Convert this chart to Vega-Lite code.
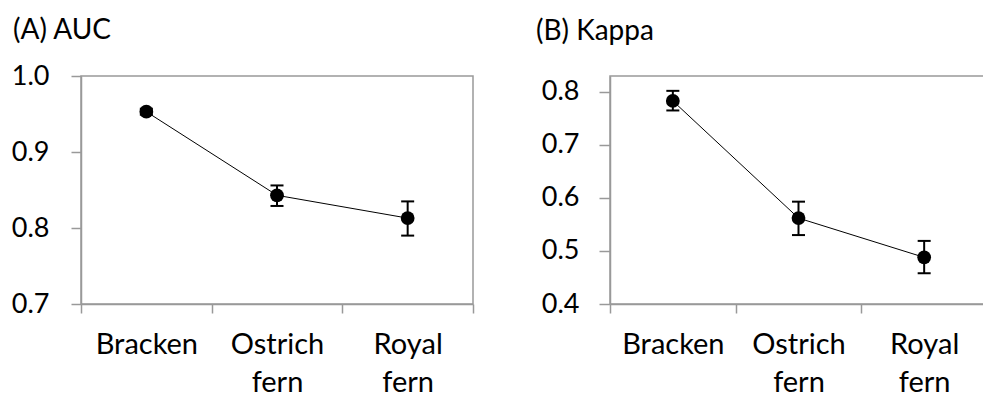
{
  "$schema": "https://vega.github.io/schema/vega-lite/v6.json",
  "autosize": {"type": "pad"},
  "padding": {"left": 0, "top": 16, "right": 0, "bottom": 0},
  "background": "white",
  "spacing": 54,
  "config": {
    "font": "Lato",
    "view": {"stroke": "#999999", "strokeWidth": 1.5},
    "axis": {
      "domainColor": "#999999",
      "domainWidth": 1.5,
      "tickColor": "#999999",
      "tickWidth": 1.5,
      "labelColor": "black",
      "labelFont": "Lato",
      "grid": false,
      "title": null
    },
    "title": {"font": "Lato", "fontWeight": "normal", "fontSize": 28, "color": "black", "anchor": "start", "frame": "group"}
  },
  "datasets": {
    "auc": [
      {"species": "Bracken", "value": 0.953, "lo": 0.949, "hi": 0.957},
      {"species": "Ostrich fern", "value": 0.843, "lo": 0.829, "hi": 0.856},
      {"species": "Royal fern", "value": 0.813, "lo": 0.790, "hi": 0.835}
    ],
    "kappa": [
      {"species": "Bracken", "value": 0.783, "lo": 0.765, "hi": 0.802},
      {"species": "Ostrich fern", "value": 0.562, "lo": 0.530, "hi": 0.593},
      {"species": "Royal fern", "value": 0.488, "lo": 0.458, "hi": 0.519}
    ]
  },
  "hconcat": [
    {
      "title": {"text": "(A) AUC", "dx": -68, "offset": 17},
      "width": 392,
      "height": 228,
      "data": {"name": "auc"},
      "encoding": {
        "x": {
          "field": "species", "type": "nominal", "sort": null,
          "scale": {"type": "band", "paddingInner": 0, "paddingOuter": 0},
          "axis": {"labelExpr": "split(datum.label, ' ')", "labelAngle": 0, "labelFontSize": 29, "labelLineHeight": 38, "labelPadding": 17, "tickSize": 9, "tickBand": "extent", "labelOverlap": false}
        }
      },
      "layer": [
        {
          "mark": {"type": "line", "color": "black", "strokeWidth": 1},
          "encoding": {
            "y": {"field": "value", "type": "quantitative",
              "scale": {"domain": [0.7, 1.0], "nice": false, "zero": false},
              "axis": {"values": [0.7, 0.8, 0.9, 1.0], "format": ".1f", "labelFontSize": 27, "tickSize": 10, "labelPadding": 22, "minExtent": 80, "maxExtent": 80}}
          }
        },
        {
          "mark": {"type": "rule", "color": "black", "strokeWidth": 2},
          "encoding": {"y": {"field": "lo", "type": "quantitative"}, "y2": {"field": "hi"}}
        },
        {
          "mark": {"type": "tick", "color": "black", "thickness": 2, "size": 13, "opacity": 1},
          "encoding": {"y": {"field": "lo", "type": "quantitative"}}
        },
        {
          "mark": {"type": "tick", "color": "black", "thickness": 2, "size": 13, "opacity": 1},
          "encoding": {"y": {"field": "hi", "type": "quantitative"}}
        },
        {
          "mark": {"type": "point", "filled": true, "color": "black", "size": 190, "opacity": 1},
          "encoding": {"y": {"field": "value", "type": "quantitative"}}
        }
      ]
    },
    {
      "title": {"text": "(B) Kappa", "dx": -74, "offset": 30.5},
      "width": 377,
      "height": 228,
      "data": {"name": "kappa"},
      "encoding": {
        "x": {
          "field": "species", "type": "nominal", "sort": null,
          "scale": {"type": "band", "paddingInner": 0, "paddingOuter": 0},
          "axis": {"labelExpr": "split(datum.label, ' ')", "labelAngle": 0, "labelFontSize": 29, "labelLineHeight": 38, "labelPadding": 17, "tickSize": 9, "tickBand": "extent", "labelOverlap": false}
        }
      },
      "layer": [
        {
          "mark": {"type": "line", "color": "black", "strokeWidth": 1},
          "encoding": {
            "y": {"field": "value", "type": "quantitative",
              "scale": {"domain": [0.4, 0.83], "nice": false, "zero": false},
              "axis": {"values": [0.4, 0.5, 0.6, 0.7, 0.8], "format": ".1f", "labelFontSize": 27, "tickSize": 11, "labelPadding": 20, "minExtent": 80, "maxExtent": 80}}
          }
        },
        {
          "mark": {"type": "rule", "color": "black", "strokeWidth": 2},
          "encoding": {"y": {"field": "lo", "type": "quantitative"}, "y2": {"field": "hi"}}
        },
        {
          "mark": {"type": "tick", "color": "black", "thickness": 2, "size": 13, "opacity": 1},
          "encoding": {"y": {"field": "lo", "type": "quantitative"}}
        },
        {
          "mark": {"type": "tick", "color": "black", "thickness": 2, "size": 13, "opacity": 1},
          "encoding": {"y": {"field": "hi", "type": "quantitative"}}
        },
        {
          "mark": {"type": "point", "filled": true, "color": "black", "size": 190, "opacity": 1},
          "encoding": {"y": {"field": "value", "type": "quantitative"}}
        }
      ]
    }
  ]
}
